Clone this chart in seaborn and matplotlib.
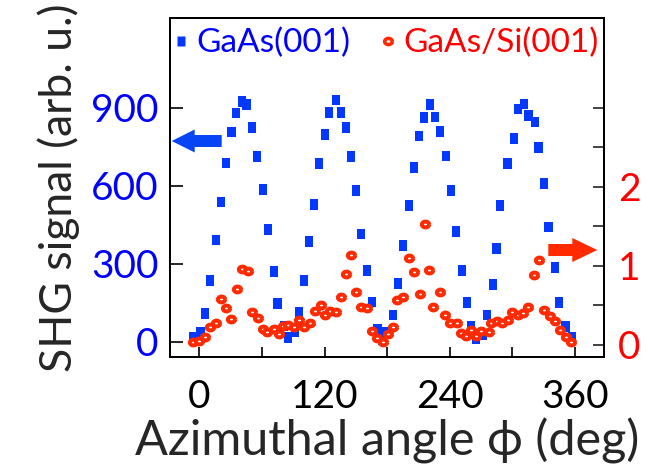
import numpy as np
import pandas as pd
import matplotlib
matplotlib.use("Agg")
import matplotlib.pyplot as plt
import seaborn as sns
from matplotlib.path import Path
from matplotlib.patches import FancyArrow
from matplotlib.lines import Line2D

# ---------------- data ----------------
gaas_angle = [-5.8, 1.3, 5.2, 10.3, 16.0, 20.8, 25.6, 31.0, 35.2, 40.9, 45.4, 50.5, 55.3, 60.8,
              65.6, 71.6, 75.1, 81.0, 85.0, 91.7, 95.5, 100.3, 105.1, 110.0, 114.8, 120.6, 124.5,
              131.0, 135.9, 140.7, 145.5, 150.3, 155.0, 160.8, 165.6, 170.6, 175.0, 179.6, 185.4,
              190.5, 195.0, 201.0, 205.8, 210.6, 215.4, 221.1, 225.9, 230.7, 236.5, 241.3, 246.0,
              251.8, 256.6, 260.4, 265.2, 271.9, 275.7, 281.5, 285.0, 288.3, 295.6, 301.6, 305.2,
              311.3, 315.7, 321.8, 325.3, 330.4, 334.9, 341.0, 344.8, 351.2, 357.0]
gaas_signal = [19, 35, 108, 235, 392, 537, 688, 807, 880, 923, 912, 823, 712, 585,
               431, 269, 146, 60, 17, 38, 112, 235, 385, 527, 685, 796, 881,
               930, 881, 823, 712, 581, 415, 273, 152, 48, 8, 37, 103,
               225, 369, 523, 669, 792, 862, 912, 865, 808, 715, 581, 423,
               273, 150, 60, 13, 26, 103, 219, 358, 523, 685, 781, 895,
               914, 869, 845, 746, 608, 442, 285, 150, 58, 17]

si_angle = [-5.8, -0.3, 5.2, 10.3, 16.0, 20.5, 25.6, 30.1, 35.8, 40.6, 46.7, 50.2, 55.9, 60.7,
            65.1, 71.6, 76.1, 80.5, 85.3, 91.0, 95.5, 100.6, 106.0, 110.9, 116.6, 120.5, 125.3,
            131.0, 135.8, 140.7, 145.5, 150.3, 155.0, 160.8, 165.6, 170.4, 176.1, 180.9, 185.4,
            189.0, 195.5, 201.0, 205.8, 211.6, 216.4, 220.2, 224.0, 230.7, 235.4, 240.2, 247.0,
            250.8, 255.6, 260.4, 265.2, 270.0, 277.7, 279.6, 285.4, 290.4, 296.2, 300.0, 305.8,
            310.5, 315.3, 320.8, 325.6, 330.4, 336.2, 341.0, 346.1, 351.3, 356.0]
si_signal = [0.03, 0.05, 0.10, 0.22, 0.27, 0.58, 0.46, 0.33, 0.71, 0.96, 0.93, 0.41, 0.34, 0.20,
             0.16, 0.20, 0.14, 0.24, 0.25, 0.22, 0.31, 0.23, 0.27, 0.43, 0.50, 0.38, 0.43,
             0.41, 0.60, 0.89, 1.14, 0.67, 0.48, 0.46, 0.17, 0.08, 0.03, 0.13, 0.22,
             0.57, 0.60, 1.10, 0.92, 0.64, 1.53, 0.95, 0.48, 0.67, 0.38, 0.28, 0.27,
             0.15, 0.11, 0.18, 0.11, 0.17, 0.16, 0.27, 0.30, 0.27, 0.31, 0.42, 0.37,
             0.40, 0.48, 0.88, 1.07, 0.44, 0.36, 0.30, 0.19, 0.10, 0.03]

x_ticks = [0, 60, 120, 180, 240, 300, 360]
x_ticklabels = ["0", "", "120", "", "240", "", "360"]
left_ticks = [0, 300, 600, 900]
right_ticks = [0, 0.5, 1, 1.5, 2, 2.5, 3]
right_ticklabels = ["0", "", "1", "", "2", "", ""]
series_labels = ["GaAs(001)", "GaAs/Si(001)"]

# ---------------- style ----------------
BLUE = "#0538ff"
RED = "#ff2a00"
sns.set_style("white")
plt.rcParams["font.family"] = ["Lato", "DejaVu Sans"]

rect_marker = Path([(-0.8, -1), (0.8, -1), (0.8, 1), (-0.8, 1), (-0.8, -1)],
                   [Path.MOVETO, Path.LINETO, Path.LINETO, Path.LINETO, Path.CLOSEPOLY])
t = np.linspace(0, 2 * np.pi, 41)
ell_marker = Path(np.column_stack([np.cos(t), 0.8 * np.sin(t)]))

fig = plt.figure(figsize=(6.48, 4.71), dpi=100)
ax = fig.add_axes([0.2619, 0.242, 0.6707, 0.7191])
ax2 = ax.twinx()

df_a = pd.DataFrame({"angle": gaas_angle, "signal": gaas_signal})
df_b = pd.DataFrame({"angle": si_angle, "signal": si_signal})

sns.scatterplot(data=df_a, x="angle", y="signal", ax=ax, marker=rect_marker, s=58,
                color=BLUE, edgecolor="none", linewidth=0, zorder=3)
sns.scatterplot(data=df_b, x="angle", y="signal", ax=ax2, marker=ell_marker, s=27,
                color="white", edgecolor=RED, linewidth=2.9, zorder=3)

ax.set_xlim(-28.4, 388.2)
ax.set_ylim(-58.8, 1243.8)
ax2.set_ylim(-0.156, 4.13)

ax.set_xticks(x_ticks)
ax.set_xticklabels(x_ticklabels)
ax.set_yticks(left_ticks)
ax.set_yticklabels([str(v) for v in left_ticks])
ax2.set_yticks(right_ticks)
ax2.set_yticklabels(right_ticklabels)

ax.tick_params(axis="x", bottom=True, top=False, direction="in", length=7, width=1.2,
               color="black", labelsize=28, pad=16, labelcolor="black")
ax.tick_params(axis="y", left=True, right=False, direction="in", length=9.5, width=1.2,
               color="black", labelsize=28, pad=8, labelcolor="#0000ff")
ax2.tick_params(axis="y", right=True, left=False, direction="in", length=8, width=1.2,
                color="#222222", labelsize=28, pad=10, labelcolor="#ff0000")

for a in (ax, ax2):
    for sp in a.spines.values():
        sp.set_color("black")
        sp.set_linewidth(1.4)

ax.set_xlabel("Azimuthal angle ϕ (deg)", fontsize=35, labelpad=2)
ax.set_ylabel("SHG signal (arb. u.)", fontsize=32, labelpad=8)
ax2.set_ylabel("")

# legend
h1 = Line2D([], [], ls="none", marker=rect_marker, ms=7.5, mfc=BLUE, mec="none")
h2 = Line2D([], [], ls="none", marker=ell_marker, ms=5.5, mfc="white", mec=RED, mew=2.6)
leg = ax2.legend([h1, h2], series_labels, ncol=2, loc="upper left",
                 bbox_to_anchor=(176 / 648, 1 - 28 / 471), bbox_transform=fig.transFigure,
                 frameon=False, fontsize=24, handlelength=0.3, handletextpad=0.3,
                 columnspacing=1.0, borderpad=0, borderaxespad=0)
for txt, c in zip(leg.get_texts(), ["#0000ff", "#ff0000"]):
    txt.set_color(c)

# arrows indicating the axis of each series
fig.add_artist(FancyArrow(2.217, 3.30, -0.50, 0, width=0.12, head_width=0.23, head_length=0.23,
                          length_includes_head=True, transform=fig.dpi_scale_trans,
                          color="#0545f5", lw=0, zorder=5))
fig.add_artist(FancyArrow(5.483, 2.21, 0.49, 0, width=0.12, head_width=0.24, head_length=0.25,
                          length_includes_head=True, transform=fig.dpi_scale_trans,
                          color=RED, lw=0, zorder=5))

fig.savefig("out.png", dpi=100)
